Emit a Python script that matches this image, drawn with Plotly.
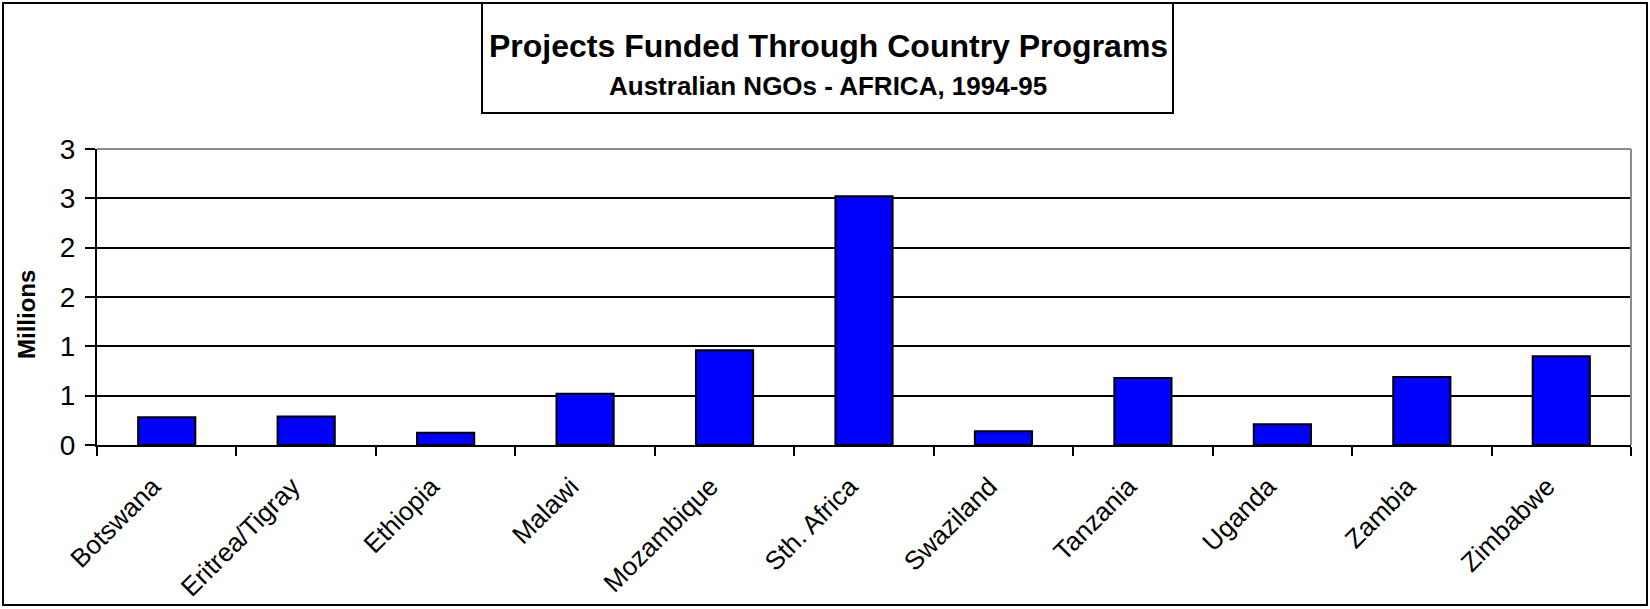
import plotly.graph_objects as go

# Data (values in millions)
countries = ['Botswana', 'Eritrea/Tigray', 'Ethiopia', 'Malawi', 'Mozambique',
             'Sth. Africa', 'Swaziland', 'Tanzania', 'Uganda', 'Zambia', 'Zimbabwe']
funding = [0.28, 0.29, 0.125, 0.52, 0.96, 2.52, 0.14, 0.68, 0.21, 0.69, 0.90]

y_tickvals = [0, 0.5, 1, 1.5, 2, 2.5, 3]
y_ticktext = ['0', '1', '1', '2', '2', '3', '3']

title_text = 'Projects Funded Through Country Programs'
subtitle_text = 'Australian NGOs - AFRICA, 1994-95'
y_title = 'Millions'

FONT = 'Liberation Sans, Arial, sans-serif'

# plot area in pixels (figure is 1650 x 609)
W, H = 1650, 609
L, R, T, B = 97, 19, 149, 164
pw = W - L - R
ph = H - T - B


def px_x(x):
    return (x - L) / pw


def px_y(y):
    return (H - B - y) / ph


fig = go.Figure()

fig.add_trace(go.Bar(
    x=countries,
    y=funding,
    marker=dict(color='#0000FF', line=dict(color='black', width=2)),
    hovertemplate='%{x}: %{y:.2f}M<extra></extra>'
))

fig.update_layout(
    width=W,
    height=H,
    margin=dict(l=L, r=R, t=T, b=B),
    paper_bgcolor='white',
    plot_bgcolor='white',
    showlegend=False,
    bargap=0.59,
    font=dict(family=FONT, color='black'),
    xaxis=dict(
        type='category',
        automargin=False,
        showline=True,
        linecolor='black',
        linewidth=2,
        ticks='outside',
        tickson='boundaries',
        ticklen=9,
        tickwidth=2,
        tickcolor='black',
        tickangle=-45,
        tickfont=dict(size=26, family=FONT, color='black'),
        ticklabelstandoff=14,
        ticklabelshift=-14,
        showgrid=False,
    ),
    yaxis=dict(
        range=[0, 3],
        automargin=False,
        tickvals=y_tickvals,
        ticktext=y_ticktext,
        showline=True,
        linecolor='black',
        linewidth=2,
        ticks='outside',
        ticklen=10,
        tickwidth=2,
        tickcolor='black',
        tickfont=dict(size=28, family=FONT, color='black'),
        ticklabelstandoff=4,
        showgrid=True,
        gridcolor='black',
        gridwidth=2,
        zeroline=False,
    ),
)

# gray top / right border of the plot area
fig.add_shape(type='line', xref='paper', yref='paper', x0=0, x1=1, y0=1, y1=1,
              line=dict(color='#8c8c8c', width=2), layer='above')
fig.add_shape(type='line', xref='paper', yref='paper', x0=1, x1=1, y0=0, y1=1,
              line=dict(color='#8c8c8c', width=2), layer='above')

# outer chart frame
fig.add_shape(type='rect', xref='paper', yref='paper',
              x0=px_x(3), x1=px_x(1647), y0=px_y(605), y1=px_y(3),
              line=dict(color='black', width=2), layer='below')

# title box
fig.add_shape(type='rect', xref='paper', yref='paper',
              x0=px_x(482), x1=px_x(1173), y0=px_y(113), y1=px_y(3),
              line=dict(color='black', width=2), fillcolor='white', layer='below')

fig.add_annotation(text='<b>' + title_text + '</b>', xref='paper', yref='paper',
                   x=px_x(828), y=px_y(46), xanchor='center', yanchor='middle',
                   showarrow=False, font=dict(size=32, family=FONT, color='black'))
fig.add_annotation(text='<b>' + subtitle_text + '</b>', xref='paper', yref='paper',
                   x=px_x(828), y=px_y(86), xanchor='center', yanchor='middle',
                   showarrow=False, font=dict(size=26, family=FONT, color='black'))

fig.add_annotation(text='<b>' + y_title + '</b>', xref='paper', yref='paper',
                   x=px_x(26), y=px_y(315), xanchor='center', yanchor='middle',
                   textangle=-90, showarrow=False,
                   font=dict(size=24, family=FONT, color='black'))

# drop the browser's default body margin so the figure sits at the page corner
fig.write_html('out.html', config={'displayModeBar': False},
               post_script="document.body.style.margin='0';")
